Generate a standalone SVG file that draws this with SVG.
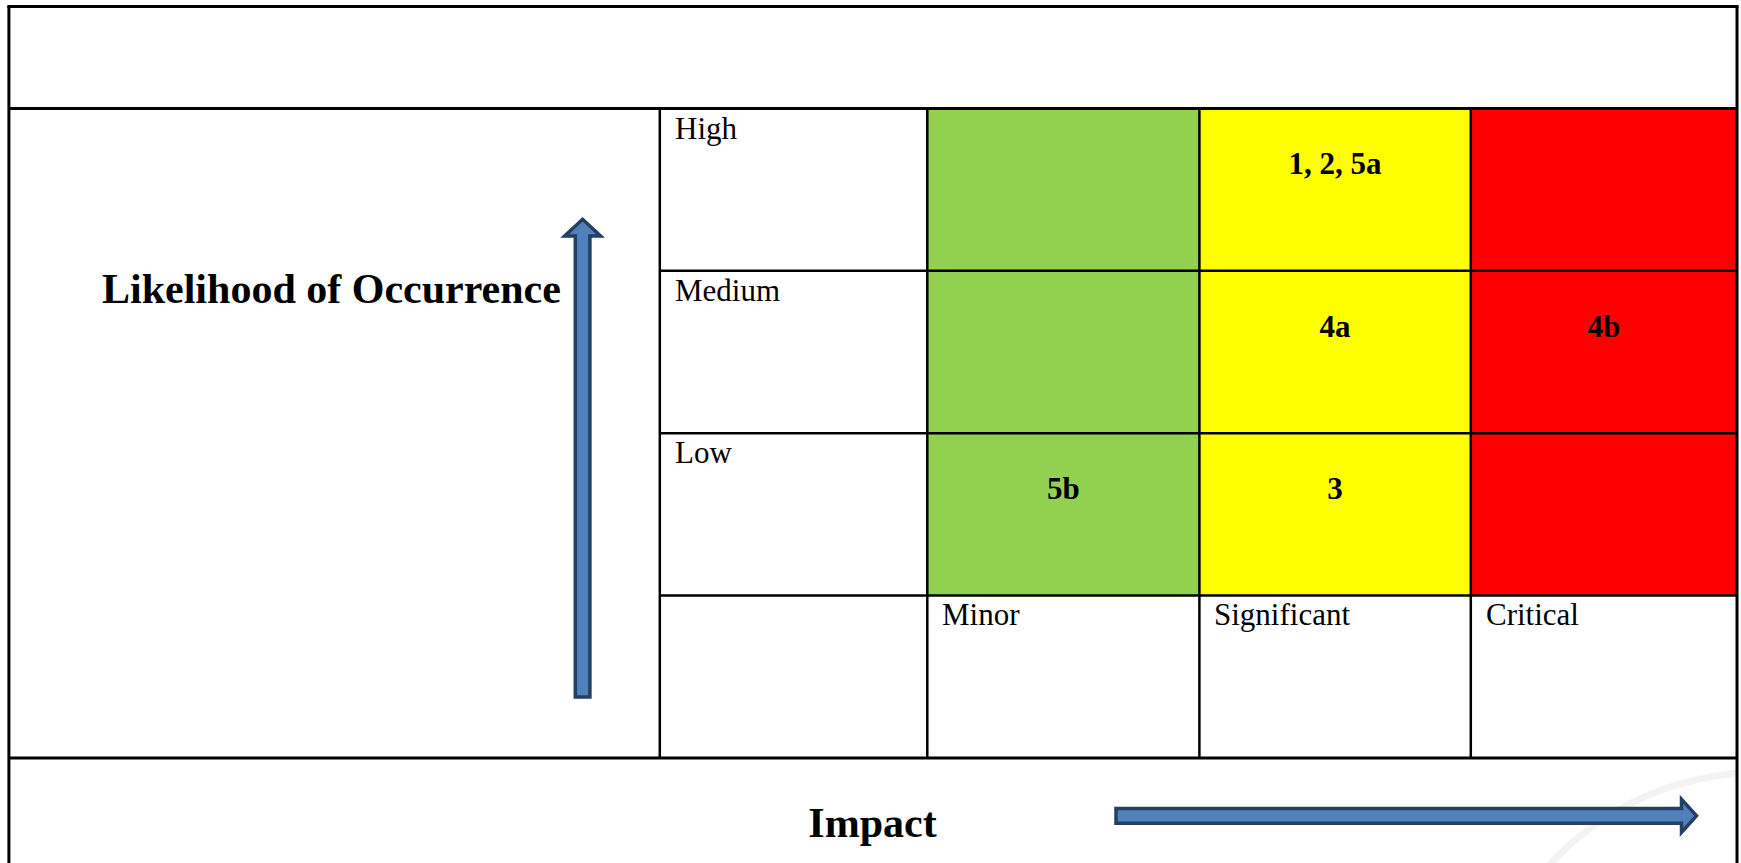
<svg xmlns="http://www.w3.org/2000/svg" width="1741" height="863" viewBox="0 0 1741 863">
  <style>
    .ln { stroke: #000; stroke-width: 2.5; fill: none; }
    .lbl { font-family: "Liberation Serif", "Times New Roman", serif; font-size: 31px; fill: #000; }
    .val { font-family: "Liberation Serif", "Times New Roman", serif; font-size: 31px; font-weight: bold; fill: #000; text-anchor: middle; }
    .axis { font-family: "Liberation Serif", "Times New Roman", serif; font-size: 42px; font-weight: bold; fill: #000; }
    .arrow { fill: #4F81BD; stroke: #243F60; stroke-width: 3.5; stroke-linejoin: miter; }
  </style>
  <defs>
    <clipPath id="bottomCell"><rect x="10" y="759" width="1726" height="104"/></clipPath>
  </defs>
  <rect x="0" y="0" width="1741" height="863" fill="#fff"/>

  <!-- faint watermark arc -->
  <g clip-path="url(#bottomCell)">
    <circle cx="1762" cy="1062" r="290" fill="none" stroke="#f3f3f3" stroke-width="7"/>
  </g>

  <!-- cells -->
  <g id="cells">
    <rect x="927.3" y="108.5" width="272.1" height="487" fill="#92D050"/>
    <rect x="1199.4" y="108.5" width="271.4" height="487" fill="#FFFF00"/>
    <rect x="1470.8" y="108.5" width="266.2" height="487" fill="#FF0000"/>
  </g>

  <!-- grid lines -->
  <g id="grid">
    <line class="ln" x1="8.9" y1="6" x2="8.9" y2="870" style="stroke-width:3"/>
    <line class="ln" x1="1737" y1="6" x2="1737" y2="870" style="stroke-width:3"/>
    <line class="ln" x1="7.4" y1="6.5" x2="1738.5" y2="6.5" style="stroke-width:3"/>
    <line class="ln" x1="8.9" y1="108.5" x2="1737" y2="108.5" style="stroke-width:3"/>
    <line class="ln" x1="8.9" y1="758" x2="1737" y2="758" style="stroke-width:3"/>
    <line class="ln" x1="659.8" y1="108.5" x2="1737" y2="108.5"/>
    <line class="ln" x1="659.8" y1="270.8" x2="1737" y2="270.8"/>
    <line class="ln" x1="659.8" y1="433.3" x2="1737" y2="433.3"/>
    <line class="ln" x1="659.8" y1="595.5" x2="1737" y2="595.5"/>
    <line class="ln" x1="659.8" y1="108.5" x2="659.8" y2="758"/>
    <line class="ln" x1="927.3" y1="108.5" x2="927.3" y2="758"/>
    <line class="ln" x1="1199.4" y1="108.5" x2="1199.4" y2="758"/>
    <line class="ln" x1="1470.8" y1="108.5" x2="1470.8" y2="758"/>
  </g>

  <!-- row labels -->
  <g id="rows">
    <text class="lbl" x="675" y="138.5">High</text>
    <text class="lbl" x="675" y="300.8">Medium</text>
    <text class="lbl" x="675" y="463.3">Low</text>
  </g>

  <!-- column labels -->
  <g id="cols">
    <text class="lbl" x="942" y="625">Minor</text>
    <text class="lbl" x="1214" y="625">Significant</text>
    <text class="lbl" x="1486" y="625">Critical</text>
  </g>

  <!-- cell values -->
  <g id="values">
    <text class="val" x="1335.1" y="174">1, 2, 5a</text>
    <text class="val" x="1335.1" y="336.7">4a</text>
    <text class="val" x="1603.9" y="336.7">4b</text>
    <text class="val" x="1063.4" y="499">5b</text>
    <text class="val" x="1335.1" y="499">3</text>
  </g>

  <!-- axis titles -->
  <g id="axis-titles">
    <text class="axis" x="102" y="302.7">Likelihood of Occurrence</text>
    <text class="axis" x="872.5" y="837.3" text-anchor="middle">Impact</text>
  </g>

  <!-- arrows -->
  <g id="connectors">
    <path class="arrow" d="M575.3,697 L575.3,236 L564.6,236 L582.6,219.3 L600.6,236 L589.9,236 L589.9,697 Z"/>
    <path class="arrow" d="M1116,808.6 L1681.5,808.6 L1681.5,799.2 L1696.5,815.8 L1681.5,832.4 L1681.5,823.2 L1116,823.2 Z"/>
  </g>
</svg>
